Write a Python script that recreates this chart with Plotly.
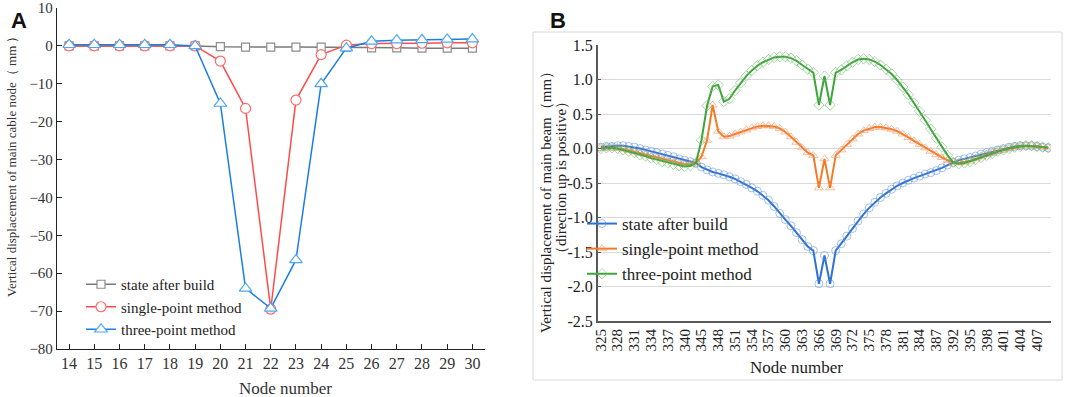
import plotly.graph_objects as go

W, H = 1065, 397
SERIF = "Liberation Serif"

# ---------------- Panel A data ----------------
nodes_a = list(range(14, 31))
state_a = [0, 0, 0, 0, 0, 0, -0.2, -0.3, -0.3, -0.3, -0.3, -0.3, -0.5, -0.5, -0.6, -0.6, -0.6]
single_a = [0, 0, 0, 0, 0, 0, -4, -16.5, -69.5, -14.3, -2.3, 0.2, 0.6, 0.6, 0.7, 0.8, 0.8]
three_a = [0.3, 0.3, 0.3, 0.3, 0.3, 0, -15.2, -64, -69.3, -56.5, -10, -0.6, 1.2, 1.5, 1.6, 1.7, 1.8]
yticks_a = [10, 0, -10, -20, -30, -40, -50, -60, -70, -80]

# ---------------- Panel B data ----------------
nodes_b = (list(range(325, 341)) + [342, 343] + list(range(345, 388)) + [389, 390]
           + list(range(392, 410)))
state_b = [0.02, 0.03, 0.03, 0.04, 0.04, 0.03, 0.02, 0.0, -0.02, -0.04,
           -0.06, -0.08, -0.10, -0.12, -0.15, -0.17, -0.19, -0.21, -0.27, -0.31,
           -0.34, -0.36, -0.38, -0.41, -0.44, -0.48, -0.52, -0.57, -0.62, -0.68,
           -0.75, -0.84, -0.94, -1.03, -1.12, -1.22, -1.32, -1.42, -1.48, -1.96,
           -1.55, -1.96, -1.48, -1.38, -1.27, -1.16, -1.05, -0.95, -0.86, -0.78,
           -0.71, -0.65, -0.59, -0.54, -0.50, -0.46, -0.43, -0.40, -0.37, -0.35,
           -0.32, -0.28, -0.24, -0.20, -0.17, -0.15, -0.13, -0.11, -0.08, -0.06,
           -0.04, -0.02, 0.0, 0.02, 0.03, 0.04, 0.04, 0.04, 0.03, 0.02, 0.01]
single_b = [0.0, 0.01, 0.01, 0.0, -0.01, -0.03, -0.05, -0.07, -0.09, -0.11,
            -0.13, -0.15, -0.17, -0.19, -0.21, -0.23, -0.23, -0.21, -0.12, 0.12,
            0.63, 0.25, 0.17, 0.18, 0.21, 0.24, 0.27, 0.30, 0.32, 0.33,
            0.33, 0.32, 0.29, 0.24, 0.17, 0.09, 0.01, -0.06, -0.10, -0.57,
            -0.15, -0.57, -0.10, -0.02, 0.06, 0.14, 0.21, 0.26, 0.29, 0.31,
            0.31, 0.30, 0.28, 0.25, 0.21, 0.16, 0.11, 0.06, 0.01, -0.04,
            -0.09, -0.13, -0.17, -0.20, -0.21, -0.20, -0.18, -0.15, -0.12, -0.09,
            -0.07, -0.04, -0.02, 0.0, 0.02, 0.03, 0.04, 0.04, 0.03, 0.02, 0.01]
three_b = [0.0, 0.01, 0.01, 0.0, -0.02, -0.04, -0.06, -0.09, -0.11, -0.14,
           -0.16, -0.19, -0.21, -0.23, -0.25, -0.26, -0.25, -0.21, 0.12, 0.62,
           0.90, 0.92, 0.68, 0.72, 0.84, 0.95, 1.05, 1.13, 1.20, 1.25,
           1.29, 1.32, 1.33, 1.33, 1.31, 1.27, 1.21, 1.15, 1.10, 0.63,
           1.05, 0.63, 1.10, 1.14, 1.20, 1.25, 1.29, 1.30, 1.29, 1.26,
           1.21, 1.15, 1.08, 0.99, 0.89, 0.78, 0.66, 0.54, 0.41, 0.28,
           0.15, 0.02, -0.10, -0.20, -0.22, -0.21, -0.19, -0.16, -0.13, -0.10,
           -0.07, -0.04, -0.02, 0.0, 0.02, 0.03, 0.04, 0.04, 0.03, 0.02, 0.01]
yticks_b = [1.5, 1.0, 0.5, 0.0, -0.5, -1.0, -1.5, -2.0, -2.5]
xlabels_b = [str(n) for n in nodes_b]
xticks_b = xlabels_b[::3]

fig = go.Figure()

# Panel A traces
fig.add_trace(go.Scatter(
    x=nodes_a, y=state_a, name="state after build", mode="lines+markers",
    line=dict(color="#7a7a7a", width=1.5),
    marker=dict(symbol="square", size=8, color="white", line=dict(color="#8c8c8c", width=1.2)),
    xaxis="x", yaxis="y", legend="legend"))
fig.add_trace(go.Scatter(
    x=nodes_a, y=single_a, name="single-point method", mode="lines+markers",
    line=dict(color="#ff4b4b", width=1.5),
    marker=dict(symbol="circle", size=10, color="white", line=dict(color="#ff6b6b", width=1.2)),
    xaxis="x", yaxis="y", legend="legend"))
fig.add_trace(go.Scatter(
    x=nodes_a, y=three_a, name="three-point method", mode="lines+markers",
    line=dict(color="#1a7fe0", width=1.5),
    marker=dict(symbol="triangle-up", size=11, color="white", line=dict(color="#4ea8f0", width=1.2)),
    xaxis="x", yaxis="y", legend="legend"))

# Panel B traces
fig.add_trace(go.Scatter(
    x=xlabels_b, y=state_b, name="state after build", mode="lines+markers",
    line=dict(color="#2f72d2", width=2),
    marker=dict(symbol="circle-open", size=8, color="rgba(90,140,225,0.55)", line=dict(width=1)),
    xaxis="x2", yaxis="y2", legend="legend2"))
fig.add_trace(go.Scatter(
    x=xlabels_b, y=single_b, name="single-point method", mode="lines+markers",
    line=dict(color="#f57a24", width=2),
    marker=dict(symbol="triangle-up-open", size=8, color="rgba(250,145,95,0.6)", line=dict(width=1)),
    xaxis="x2", yaxis="y2", legend="legend2"))
fig.add_trace(go.Scatter(
    x=xlabels_b, y=three_b, name="three-point method", mode="lines+markers",
    line=dict(color="#3da53a", width=2),
    marker=dict(symbol="diamond-open", size=8, color="rgba(110,190,110,0.6)", line=dict(width=1)),
    xaxis="x2", yaxis="y2", legend="legend2"))


def px_x(p):
    return p / W


def px_y(p):
    return 1 - p / H


fig.update_layout(
    width=W, height=H,
    margin=dict(l=0, r=0, t=0, b=0, autoexpand=False),
    paper_bgcolor="white", plot_bgcolor="white",
    font=dict(family=SERIF, size=15, color="#222"),
    xaxis=dict(domain=[px_x(57), px_x(485)], range=[13.52, 30.5], tickvals=nodes_a,
               ticks="inside", ticklen=5, tickcolor="#222", showline=True, linecolor="#222",
               linewidth=1.3, showgrid=False, zeroline=False, anchor="y", automargin=False,
               ticklabeloverflow="allow",
               tickfont=dict(family=SERIF, size=16, color="#333")),
    yaxis=dict(domain=[px_y(349), px_y(8)], range=[-80, 10], tickvals=yticks_a,
               ticks="inside", ticklen=5, tickcolor="#222", showline=True, linecolor="#222",
               linewidth=1.3, showgrid=False, zeroline=False, anchor="x", automargin=False,
               ticklabeloverflow="allow",
               tickfont=dict(family=SERIF, size=15, color="#333")),
    xaxis2=dict(domain=[px_x(598), px_x(1051)], type="category", categoryorder="array",
                categoryarray=xlabels_b, range=[-0.5, 80.5], tickvals=xticks_b,
                tickangle=-90, ticks="", showline=True, linecolor="#595959", linewidth=2,
                showgrid=False, zeroline=False, anchor="y2", automargin=False,
                ticklabeloverflow="allow",
                tickfont=dict(family=SERIF, size=15, color="#222")),
    yaxis2=dict(domain=[px_y(321), px_y(45)], range=[-2.5, 1.5], tickvals=yticks_b,
                ticktext=["%.1f" % v for v in yticks_b],
                ticks="inside", ticklen=3, tickcolor="#595959",
                showline=True, linecolor="#595959", linewidth=2, automargin=False,
                ticklabeloverflow="allow",
                showgrid=True, gridcolor="#d9d9d9", gridwidth=1, zeroline=False, anchor="x2",
                tickfont=dict(family=SERIF, size=16, color="#222")),
    legend=dict(x=px_x(81), y=px_y(268), xanchor="left", yanchor="top",
                bgcolor="rgba(0,0,0,0)", font=dict(family=SERIF, size=15, color="#222"),
                tracegroupgap=0, itemwidth=30),
    legend2=dict(x=px_x(582), y=px_y(206), xanchor="left", yanchor="top",
                 bgcolor="rgba(0,0,0,0)", font=dict(family=SERIF, size=17, color="#222"),
                 tracegroupgap=0, itemwidth=30),
    showlegend=True,
)

fig.add_shape(type="rect", xref="paper", yref="paper",
              x0=px_x(533), x1=px_x(1062), y0=px_y(380), y1=px_y(32),
              line=dict(color="#d9d9d9", width=1), layer="below")

ann = [
    dict(text="<b>A</b>", x=px_x(9), y=px_y(6), xanchor="left", yanchor="top",
         font=dict(family="Liberation Sans", size=22, color="#111")),
    dict(text="<b>B</b>", x=px_x(548), y=px_y(6), xanchor="left", yanchor="top",
         font=dict(family="Liberation Sans", size=22, color="#111")),
    dict(text="Vertical displacement of main cable node（ mm ）", x=px_x(11), y=px_y(163),
         textangle=-90, xanchor="center", yanchor="middle",
         font=dict(family=SERIF, size=13, color="#333")),
    dict(text="Node number", x=px_x(285), y=px_y(388), xanchor="center", yanchor="middle",
         font=dict(family=SERIF, size=17, color="#333")),
    dict(text="Vertical displacement of main beam（mm）", x=px_x(546), y=px_y(199),
         textangle=-90, xanchor="center", yanchor="middle",
         font=dict(family=SERIF, size=15, color="#222")),
    dict(text="（direction up is positive）", x=px_x(561), y=px_y(178),
         textangle=-90, xanchor="center", yanchor="middle",
         font=dict(family=SERIF, size=15, color="#222")),
    dict(text="Node number", x=px_x(796), y=px_y(367), xanchor="center", yanchor="middle",
         font=dict(family=SERIF, size=17, color="#222")),
]
for a in ann:
    fig.add_annotation(xref="paper", yref="paper", showarrow=False, **a)

fig.write_html("out.html", config={"displayModeBar": False},
               post_script="document.body.style.margin='0';document.body.style.overflow='hidden';")
